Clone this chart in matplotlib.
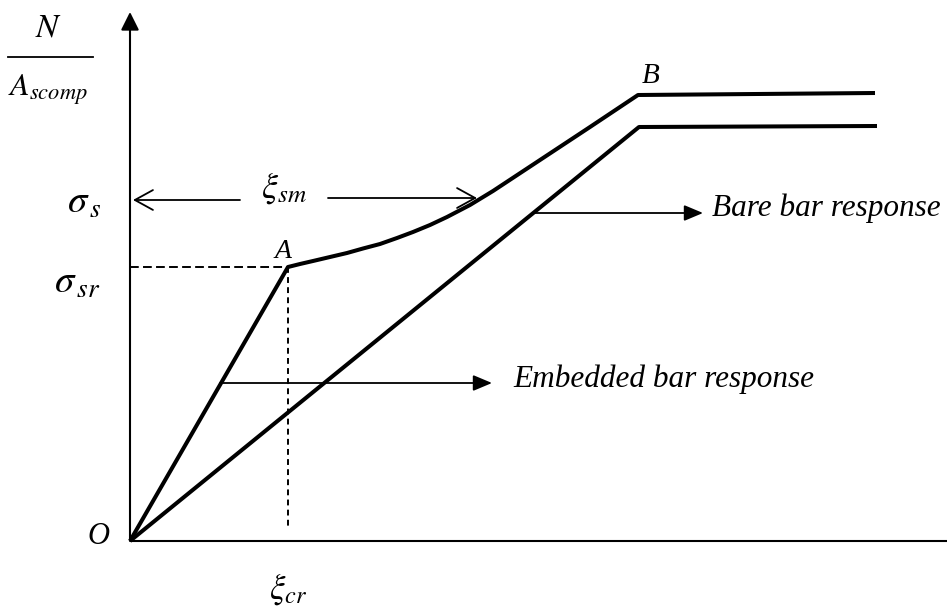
import matplotlib
matplotlib.use("Agg")
import matplotlib.pyplot as plt

plt.rcParams['mathtext.fontset'] = 'stix'
plt.rcParams['font.family'] = ['Liberation Serif', 'DejaVu Serif']

# Schematic data (arbitrary units: strain, normalised force N/A_scomp)
embedded_strain = [0.00, 1.58, 1.70, 1.83, 2.00, 2.17, 2.33, 2.50, 2.67, 2.83, 3.00,
                   3.17, 3.40, 3.63, 4.10, 4.60, 5.08, 7.45]
embedded_stress = [0.00, 2.74, 2.77, 2.80, 2.84, 2.88, 2.925, 2.97, 3.03, 3.09, 3.16,
                   3.24, 3.36, 3.50, 3.81, 4.14, 4.46, 4.48]
bare_strain = [0.00, 5.09, 7.47]
bare_stress = [0.00, 4.14, 4.15]
point_A = (1.58, 2.74)
sigma_s = 3.41
sigma_sr = 2.74
xi_cr = 1.58

fig = plt.figure(figsize=(9.47, 6.07), dpi=100)
ax = fig.add_axes([0, 0, 1, 1])
ax.set_xlim(-1.30, 8.17)
ax.set_ylim(-0.66, 5.41)
ax.axis('off')

# axes
ax.plot([0, 8.17], [0, 0], color='black', lw=1.5, solid_capstyle='butt')
ax.annotate('', xy=(0, 5.29), xytext=(0, 0),
            arrowprops=dict(arrowstyle='-|>,head_length=1.0,head_width=0.5',
                            mutation_scale=11, lw=1.5, color='black',
                            shrinkA=0, shrinkB=0))

# responses
ax.plot(embedded_strain, embedded_stress, color='black', lw=2.9,
        solid_joinstyle='round', solid_capstyle='butt')
ax.plot(bare_strain, bare_stress, color='black', lw=2.9,
        solid_joinstyle='round', solid_capstyle='butt')

# dashed guides to A
ax.plot([0, point_A[0]], [sigma_sr, sigma_sr], color='black', lw=1.4,
        linestyle=(0, (4.5, 2.2)))
ax.plot([xi_cr, xi_cr], [point_A[1], 0.12], color='black', lw=1.4,
        linestyle=(0, (3.0, 2.2)))

# xi_sm double arrow (open heads)
open_head = dict(arrowstyle='->,head_length=1.0,head_width=0.55',
                 mutation_scale=13, lw=1.3, color='black', shrinkA=0, shrinkB=0)
ax.annotate('', xy=(0.03, sigma_s), xytext=(1.10, sigma_s), arrowprops=open_head)
ax.annotate('', xy=(3.47, sigma_s + 0.02), xytext=(1.98, sigma_s + 0.02),
            arrowprops=open_head)

# label arrows (filled heads)
filled_head = dict(arrowstyle='-|>,head_length=1.0,head_width=0.42',
                   mutation_scale=11.5, lw=1.3, color='black', shrinkA=0, shrinkB=0)
ax.annotate('', xy=(5.73, 3.28), xytext=(4.03, 3.28), arrowprops=filled_head)
ax.annotate('', xy=(3.62, 1.58), xytext=(0.90, 1.58), arrowprops=filled_head)

ax.text(5.82, 3.25, 'Bare bar response', style='italic', fontsize=22.5,
        ha='left', va='baseline')
ax.text(3.83, 1.54, 'Embedded bar response', style='italic', fontsize=22.5,
        ha='left', va='baseline')

# point labels
ax.text(1.53, 2.90, 'A', style='italic', fontsize=20, ha='center', va='center')
ax.text(5.21, 4.65, 'B', style='italic', fontsize=21, ha='center', va='center')
ax.text(-0.32, 0.05, 'O', style='italic', fontsize=22, ha='center', va='center')

# axis labels
ax.text(-0.82, 5.13, r'$N$', fontsize=24, ha='center', va='center')
ax.plot([-1.22, -0.37], [4.84, 4.84], color='black', lw=1.3, clip_on=False)
ax.text(-0.82, 4.51, r'$A_{scomp}$', fontsize=23, ha='center', va='center')
ax.text(-0.46, 3.38, r'$\sigma_{\,s}$', fontsize=28, ha='center', va='center')
ax.text(-0.53, 2.58, r'$\sigma_{\,sr}$', fontsize=28, ha='center', va='center')
ax.text(1.54, 3.53, r'$\xi_{sm}$', fontsize=26, ha='center', va='center')
ax.text(1.58, -0.48, r'$\xi_{cr}$', fontsize=25, ha='center', va='center')

fig.savefig('out.png', dpi=100)
